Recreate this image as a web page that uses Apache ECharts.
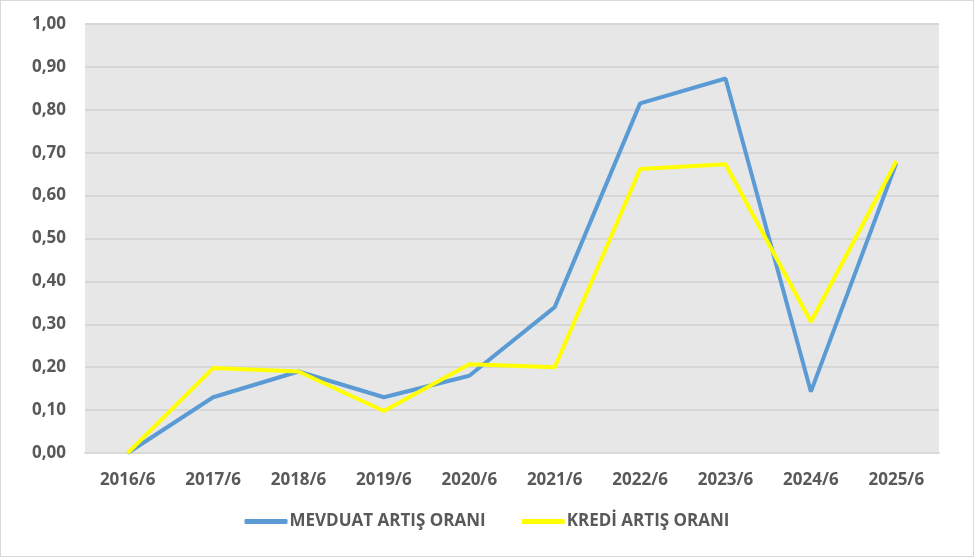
<!DOCTYPE html>
<html>
<head>
<meta charset="utf-8">
<script src="https://cdn.jsdelivr.net/npm/echarts@6/dist/echarts.min.js"></script>
<style>
  html, body { margin: 0; padding: 0; background: #fff; }
  #chart {
    width: 972px;
    height: 555px;
    border: 1px solid #d9d9d9;
  }
</style>
</head>
<body>
<div id="chart"></div>
<script>
const categories = ['2016/6', '2017/6', '2018/6', '2019/6', '2020/6', '2021/6', '2022/6', '2023/6', '2024/6', '2025/6']
const mevduat = [0.00, 0.13, 0.19, 0.13, 0.18, 0.34, 0.815, 0.873, 0.143, 0.676]
const kredi = [0.00, 0.198, 0.19, 0.098, 0.207, 0.20, 0.662, 0.673, 0.306, 0.68]
const seriesNames = ['MEVDUAT ARTIŞ ORANI', 'KREDİ ARTIŞ ORANI']
const lineColor = ['#5B9BD5', '#FFFF00']

const chart = echarts.init(document.getElementById('chart'))
const font = '"Open Sans", Calibri, sans-serif'

chart.setOption({
  backgroundColor: '#fff',
  animation: false,
  textStyle: { fontFamily: font },
  grid: {
    left: 84,
    right: 34,
    top: 23,
    bottom: 103,
    show: true,
    backgroundColor: '#e7e7e7',
    borderWidth: 0
  },
  legend: {
    bottom: 21,
    left: 'center',
    icon: 'roundRect',
    itemWidth: 43,
    itemHeight: 5,
    itemGap: 36,
    data: seriesNames,
    textStyle: {
      fontSize: 17,
      fontWeight: 'bold',
      color: '#595959',
      padding: [0, 0, 0, -3]
    }
  },
  xAxis: {
    type: 'category',
    boundaryGap: true,
    data: categories,
    axisLine: { show: true, lineStyle: { color: '#d9d9d9', width: 2 } },
    axisTick: { show: false },
    axisLabel: {
      margin: 19,
      fontSize: 17,
      fontWeight: 'bold',
      color: '#595959',
      fontFamily: font
    }
  },
  yAxis: {
    type: 'value',
    min: 0,
    max: 1,
    interval: 0.1,
    axisLine: { show: false },
    axisTick: { show: false },
    axisLabel: {
      margin: 19,
      fontSize: 17,
      fontWeight: 'bold',
      color: '#595959',
      fontFamily: font,
      formatter: (v) => v.toFixed(2).replace('.', ',')
    },
    splitLine: { lineStyle: { color: '#d6d6d6', width: 2 } }
  },
  series: [
    {
      name: seriesNames[0],
      type: 'line',
      data: mevduat,
      symbol: 'none',
      lineStyle: { color: lineColor[0], width: 4 },
      itemStyle: { color: lineColor[0] }
    },
    {
      name: seriesNames[1],
      type: 'line',
      data: kredi,
      symbol: 'none',
      lineStyle: { color: lineColor[1], width: 4 },
      itemStyle: { color: lineColor[1] }
    }
  ]
})
</script>
</body>
</html>
